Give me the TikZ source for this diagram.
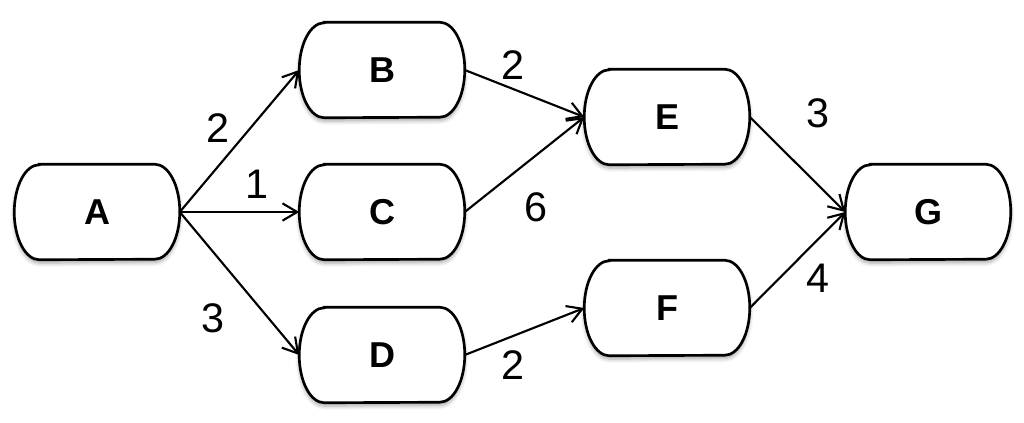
\documentclass[tikz,border=0pt]{standalone}
\usepackage{fontspec}
\setmainfont{Liberation Sans}
\usetikzlibrary{arrows.meta,shadows.blur}
\tikzset{
  px/.style={x=0.75pt,y=-0.75pt},
  pill/.style={minimum width=123.75pt,minimum height=71.25pt,inner sep=0pt,
    font=\fontsize{27}{28}\selectfont\bfseries},
  pillline/.style={line width=2pt,fill=white,
    blur shadow={shadow xshift=0pt,shadow yshift=-2.5pt,shadow blur steps=6,shadow opacity=35,shadow blur radius=3pt}},
  edge/.style={line width=1.6pt,-{Straight Barb[length=11pt,width=13pt,line width=1.6pt]}},
  lbl/.style={font=\fontsize{31}{32}\selectfont,inner sep=0pt}
}
\newcommand\pillshape[1]{%
  \path[pillline] ([xshift=18.75pt]#1.north west) -- ([xshift=-18.75pt]#1.north east)
    arc[start angle=90,end angle=-90,x radius=18.75pt,y radius=35.625pt]
    -- ([xshift=18.75pt]#1.south west)
    arc[start angle=270,end angle=90,x radius=18.75pt,y radius=35.625pt] -- cycle;
  \draw[line width=2pt] ([xshift=18.75pt]#1.north west) -- ([xshift=-18.75pt]#1.north east)
    arc[start angle=90,end angle=-90,x radius=18.75pt,y radius=35.625pt]
    -- ([xshift=18.75pt]#1.south west)
    arc[start angle=270,end angle=90,x radius=18.75pt,y radius=35.625pt] -- cycle;}
\begin{document}
\begin{tikzpicture}[px]
\useasboundingbox (0,0) rectangle (1024,423);
\node[pill] (A) at (97,212) {};
\node[pill] (B) at (382,70) {};
\node[pill] (C) at (382,212) {};
\node[pill] (D) at (382,355) {};
\node[pill] (E) at (667,117) {};
\node[pill] (F) at (667,308) {};
\node[pill] (G) at (928,212) {};
\pillshape{A}\pillshape{B}\pillshape{C}\pillshape{D}\pillshape{E}\pillshape{F}\pillshape{G}
\node[pill] at (A) {A};
\node[pill] at (B) {B};
\node[pill] at (C) {C};
\node[pill] at (D) {D};
\node[pill] at (E) {E};
\node[pill] at (F) {F};
\node[pill] at (G) {G};
\draw[edge] (A.east) -- (B.west);
\draw[edge] (A.east) -- (C.west);
\draw[edge] (A.east) -- (D.west);
\draw[edge] (B.east) -- (E.west);
\draw[edge] (C.east) -- (E.west);
\draw[edge] (D.east) -- (F.west);
\draw[edge] (E.east) -- (G.west);
\draw[edge] (F.east) -- (G.west);
\node[lbl] (lAB) at (218,128) {2};
\node[lbl] (lAC) at (257,184) {1};
\node[lbl] (lAD) at (213,318) {3};
\node[lbl] (lBE) at (513,65) {2};
\node[lbl] (lCE) at (536,207) {6};
\node[lbl] (lDF) at (513,365) {2};
\node[lbl] (lEG) at (818,113) {3};
\node[lbl] (lFG) at (818,278) {4};
\end{tikzpicture}
\end{document}
